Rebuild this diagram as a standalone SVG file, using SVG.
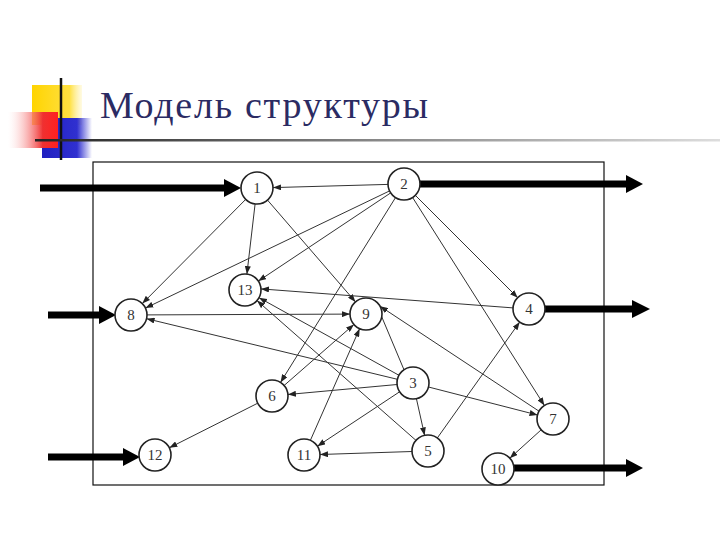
<svg xmlns="http://www.w3.org/2000/svg" width="720" height="540" viewBox="0 0 720 540">
<defs>
<linearGradient id="hl" x1="0" y1="0" x2="1" y2="0">
<stop offset="0" stop-color="#222"/><stop offset="0.5" stop-color="#888"/><stop offset="1" stop-color="#ddd"/>
</linearGradient>
<linearGradient id="red" x1="0" y1="0" x2="1" y2="0">
<stop offset="0" stop-color="#ffffff" stop-opacity="0.2"/><stop offset="0.7" stop-color="#f03030"/><stop offset="1" stop-color="#ff2020"/>
</linearGradient>
<linearGradient id="blue" x1="0" y1="0" x2="1" y2="0">
<stop offset="0" stop-color="#2020c0"/><stop offset="0.7" stop-color="#3030d0"/><stop offset="1" stop-color="#3030d0" stop-opacity="0"/>
</linearGradient>
<linearGradient id="yel" x1="0" y1="0" x2="1" y2="0">
<stop offset="0" stop-color="#ffd400"/><stop offset="0.75" stop-color="#ffe040"/><stop offset="1" stop-color="#fff0a0" stop-opacity="0.3"/>
</linearGradient>
<marker id="a" markerWidth="8" markerHeight="6" refX="8" refY="3" orient="auto" markerUnits="userSpaceOnUse">
<path d="M0,0 L8,3 L0,6 Z" fill="#222"/>
</marker>
</defs>
<style>
.n circle{fill:#fff;stroke:#222;stroke-width:1.6}
.n text{font-family:"Liberation Serif",serif;font-size:15px;fill:#333;text-anchor:middle;dominant-baseline:central}
#edges line{stroke:#333;stroke-width:1;marker-end:url(#a)}
.big line{stroke:#000;stroke-width:7}
.big polygon{fill:#000}
</style>
<rect width="720" height="540" fill="#fff"/>
<g id="decor">
<rect x="32" y="85" width="50" height="40" fill="url(#yel)"/>
<rect x="42" y="118" width="50" height="40" fill="url(#blue)"/>
<rect x="8" y="112" width="50" height="36" fill="url(#red)"/>
<line x1="61" y1="78" x2="61" y2="160" stroke="#111" stroke-width="2.5"/>
<rect x="35" y="139" width="685" height="2.5" fill="url(#hl)"/>
</g>
<text x="100" y="118" font-family="Liberation Serif, serif" font-size="38" fill="#2b2b63" textLength="328" lengthAdjust="spacing">Модель структуры</text>
<rect x="93" y="162" width="511" height="323" fill="none" stroke="#111" stroke-width="1.2"/>
<g id="edges">
<line x1="388" y1="184.4" x2="273" y2="187.6"/>
<line x1="245.7" y1="199.4" x2="142.3" y2="303.6"/>
<line x1="255.1" y1="203.9" x2="246.9" y2="274.1"/>
<line x1="267.5" y1="200.1" x2="355.5" y2="301.9"/>
<line x1="389.6" y1="190.9" x2="145.4" y2="308.1"/>
<line x1="390.7" y1="192.9" x2="258.3" y2="281.1"/>
<line x1="395.5" y1="197.6" x2="280.5" y2="382.4"/>
<line x1="415.3" y1="195.3" x2="517.7" y2="297.7"/>
<line x1="412.6" y1="197.5" x2="544.4" y2="405.5"/>
<line x1="513" y1="307.9" x2="261" y2="288.9"/>
<line x1="147" y1="314.9" x2="350" y2="314.1"/>
<line x1="397.4" y1="379.3" x2="146.6" y2="318.7"/>
<line x1="399" y1="375.3" x2="259" y2="297.7"/>
<line x1="416" y1="440.4" x2="257" y2="300.6"/>
<line x1="404" y1="369.8" x2="375" y2="300.8"/>
<line x1="397.1" y1="384.5" x2="287.9" y2="394.5"/>
<line x1="416.4" y1="398.6" x2="424.6" y2="435.4"/>
<line x1="399.6" y1="391.8" x2="317.4" y2="446.2"/>
<line x1="428.5" y1="387" x2="537.5" y2="415"/>
<line x1="539" y1="411.2" x2="380" y2="306.2"/>
<line x1="437.3" y1="438" x2="519.7" y2="322"/>
<line x1="412" y1="451.5" x2="320" y2="454.5"/>
<line x1="310.4" y1="440.3" x2="359.6" y2="328.7"/>
<line x1="284.1" y1="385.5" x2="353.9" y2="324.5"/>
<line x1="257.7" y1="403.2" x2="169.3" y2="447.8"/>
<line x1="541.2" y1="429.8" x2="509.8" y2="458.2"/>
</g>
<g id="io" class="big">
<line x1="40" y1="188" x2="226" y2="188"/><polygon points="224,179 241,188 224,197"/>
<line x1="48" y1="315" x2="100" y2="315"/><polygon points="99,306 116,315 99,324"/>
<line x1="48" y1="457" x2="124" y2="457"/><polygon points="123,448 140,457 123,466"/>
<line x1="420" y1="184" x2="628" y2="184"/><polygon points="626,175 643,184 626,193"/>
<line x1="545" y1="309" x2="634" y2="309"/><polygon points="632,300 650,309 632,318"/>
<line x1="514" y1="468" x2="628" y2="468"/><polygon points="626,459 643,468 626,477"/>
</g>
<g id="n1" class="n"><circle cx="257" cy="188" r="16"/><text x="257" y="188">1</text></g>
<g id="n2" class="n"><circle cx="404" cy="184" r="16"/><text x="404" y="184">2</text></g>
<g id="n13" class="n"><circle cx="245" cy="290" r="16"/><text x="245" y="290">13</text></g>
<g id="n8" class="n"><circle cx="131" cy="315" r="16"/><text x="131" y="315">8</text></g>
<g id="n9" class="n"><circle cx="366" cy="314" r="16"/><text x="366" y="314">9</text></g>
<g id="n4" class="n"><circle cx="529" cy="309" r="16"/><text x="529" y="309">4</text></g>
<g id="n3" class="n"><circle cx="413" cy="383" r="16"/><text x="413" y="383">3</text></g>
<g id="n6" class="n"><circle cx="272" cy="396" r="16"/><text x="272" y="396">6</text></g>
<g id="n7" class="n"><circle cx="553" cy="419" r="16"/><text x="553" y="419">7</text></g>
<g id="n12" class="n"><circle cx="155" cy="455" r="16"/><text x="155" y="455">12</text></g>
<g id="n11" class="n"><circle cx="304" cy="455" r="16"/><text x="304" y="455">11</text></g>
<g id="n5" class="n"><circle cx="428" cy="451" r="16"/><text x="428" y="451">5</text></g>
<g id="n10" class="n"><circle cx="498" cy="469" r="16"/><text x="498" y="469">10</text></g>
</svg>
